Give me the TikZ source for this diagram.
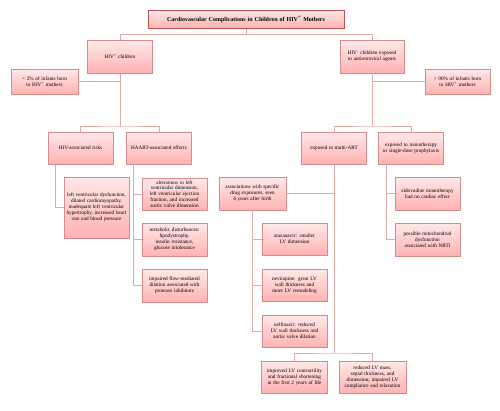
\documentclass[tikz,border=0pt]{standalone}
\usepackage{fontspec}
\setmainfont{Liberation Serif}
\usetikzlibrary{shadows,backgrounds}
\definecolor{bordc}{HTML}{D58C8C}
\definecolor{linec}{HTML}{E2A9A9}
\definecolor{topc}{HTML}{FFE8E8}
\definecolor{botc}{HTML}{FFB2B2}
\definecolor{titlebord}{HTML}{C05050}
\AtBeginDocument{\hyphenpenalty=10000 \exhyphenpenalty=10000 }
\tikzset{
  box/.style={draw=bordc, line width=0.6pt, top color=topc, bottom color=botc,
    drop shadow={shadow xshift=0.8pt, shadow yshift=-0.8pt, fill=black!25, opacity=0.6},
    text width=63pt, align=center, inner sep=1pt,
    font=\fontsize{5.2}{5.9}\selectfont},
  conn/.style={draw=linec, line width=0.9pt}
}
\begin{document}
\begin{tikzpicture}[x=1pt,y=-1pt]
\useasboundingbox (0,0) rectangle (500,410);

\node[box, minimum width=196pt, minimum height=18pt, text width=190pt, draw=titlebord, font=\bfseries\fontsize{6}{7}\selectfont] (title) at (246,19) {Cardiovascular Complications in Children of HIV\textsuperscript{+} Mothers};

\node[box, minimum width=64pt, minimum height=33pt] (hivpos) at (120,56.5) {HIV\textsuperscript{+} children};
\node[box, minimum width=65pt, minimum height=25pt, text width=65pt] (lt2) at (44.5,81.5) {< 2\% of infants born to HIV\textsuperscript{+} mothers};
\node[box, minimum width=64pt, minimum height=33pt, text width=60pt] (hivneg) at (372,56.5) {HIV\textsuperscript{-} children exposed to antiretroviral agents};
\node[box, minimum width=65pt, minimum height=25pt, text width=60pt] (gt90) at (457.5,81.5) {> 90\% of infants born to HIV\textsuperscript{+} mothers};

\node[box, minimum width=65pt, minimum height=32pt] (risks) at (80.5,148) {HIV-associated risks};
\node[box, minimum width=64pt, minimum height=32pt] (haart) at (159,148) {HAART-associated effects};
\node[box, minimum width=65pt, minimum height=61pt, text width=62pt] (lvd) at (96.5,207.5) {left ventricular dysfunction, dilated cardiomyopathy, inadequate left ventricular hypertrophy, increased heart rate and blood pressure};
\node[box, minimum width=65pt, minimum height=32pt] (alt) at (174.5,194) {alterations in left ventricular dimension, left ventricular ejection fraction, and increased aortic valve dimension};
\node[box, minimum width=65pt, minimum height=33pt, text width=56pt] (meta) at (174.5,239.5) {metabolic disturbances: lipodystrophy, insulin resistance, glucose intolerance};
\node[box, minimum width=65pt, minimum height=33pt, text width=56pt] (imp) at (174.5,285.5) {impaired flow-mediated dilation associated with protease inhibitors};

\node[box, minimum width=64pt, minimum height=32pt] (multi) at (334,148) {exposed to multi-ART};
\node[box, minimum width=64pt, minimum height=32pt] (mono) at (411,148) {exposed to monotherapy or single-dose prophylaxis};
\node[box, minimum width=65pt, minimum height=33pt, text width=54pt] (zido) at (427.5,193.5) {zidovudine monotherapy had no cardiac effect};
\node[box, minimum width=65pt, minimum height=33pt, text width=63pt] (mito) at (427.5,239.5) {possible mitochondrial dysfunction associated with NRTI};

\node[box, minimum width=65pt, minimum height=33pt, text width=65pt] (assoc) at (252.5,193.5) {associations with specific drug exposures, seen 4 years after birth};
\node[box, minimum width=65pt, minimum height=32pt, text width=56pt] (ataz) at (294.5,239) {atazanavir: smaller LV dimension};
\node[box, minimum width=65pt, minimum height=32pt, text width=58pt] (nevi) at (294.5,285) {nevirapine: great LV wall thickness and more LV remodeling};
\node[box, minimum width=65pt, minimum height=32pt, text width=60pt] (nelf) at (294.5,331) {nelfinavir: reduced LV wall thickness and aortic valve dilation};
\node[box, minimum width=65pt, minimum height=32pt, text width=64pt] (impr) at (294.5,377) {improved LV contractility and fractional shortening in the first 2 years of life};
\node[box, minimum width=65pt, minimum height=32pt, text width=65pt] (red) at (372.5,377) {reduced LV mass, septal thickness, and dimension; impaired LV compliance and relaxation};

\coordinate (bar) at (246,34);
\coordinate (b1) at (120,126);
\coordinate (b2) at (372,126);
\coordinate (b3) at (334,353);

\begin{scope}[on background layer]
\fill[white] (0,0) rectangle (500,410);
\draw[conn] (title.south) -- (title.south |- bar);
\draw[conn] (hivpos.north) -- (hivpos.north |- bar) -- (hivneg.north |- bar) -- (hivneg.north);
\draw[conn] (hivpos.south) -- (b1);
\draw[conn] (lt2.east) -- (lt2.east -| hivpos.south);
\draw[conn] (risks.north) |- (b1) -| (haart.north);
\draw[conn] (hivneg.south) -- (b2);
\draw[conn] (gt90.west) -- (gt90.west -| hivneg.south);
\draw[conn] (multi.north) |- (b2) -| (mono.north);
\draw[conn] ([xshift=-25.5pt]risks.south) |- (lvd.west);
\draw[conn] ([xshift=-26pt]haart.south) |- (alt.west);
\draw[conn] ([xshift=-26pt]haart.south) |- (meta.west);
\draw[conn] ([xshift=-26pt]haart.south) |- (imp.west);
\draw[conn] ([xshift=-25pt]mono.south) |- (zido.west);
\draw[conn] ([xshift=-25pt]mono.south) |- (mito.west);
\draw[conn] (multi.south) -- (b3);
\draw[conn] (assoc.east) -- (assoc.east -| multi.south);
\draw[conn] (impr.north) |- (b3) -| (red.north);
\draw[conn] (assoc.south) |- (ataz.west);
\draw[conn] (assoc.south) |- (nevi.west);
\draw[conn] (assoc.south) |- (nelf.west);
\end{scope}
\end{tikzpicture}
\end{document}
